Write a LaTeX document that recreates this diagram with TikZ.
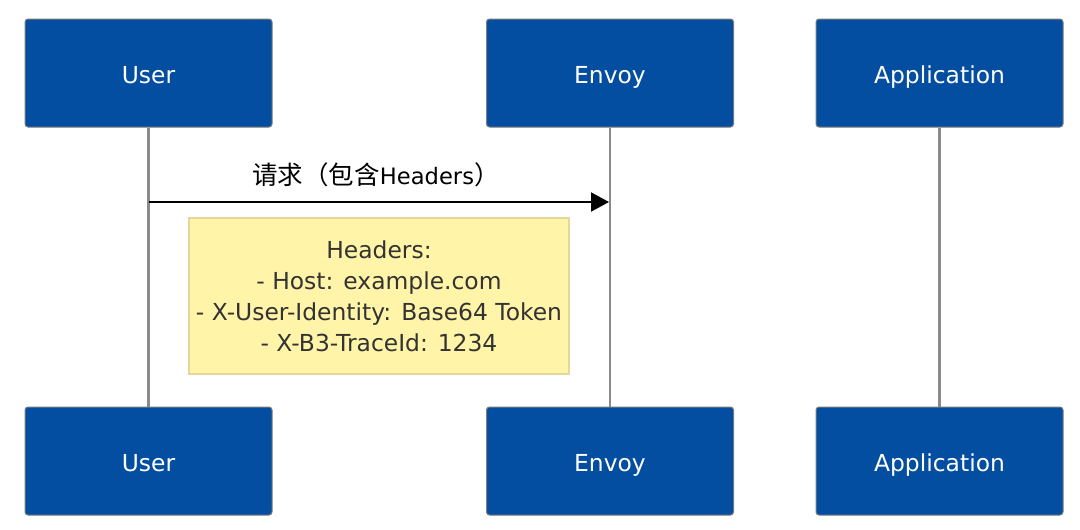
\documentclass[tikz,border=0pt]{standalone}
\usepackage{fontspec}
\setmainfont{DejaVu Sans}
\newfontfamily\cjk{Noto Sans CJK SC}
\usetikzlibrary{arrows.meta}
\definecolor{actorfill}{HTML}{034EA0}
\definecolor{actorline}{HTML}{7A7A7A}
\definecolor{lifeline}{HTML}{8A8A8A}
\definecolor{notefill}{HTML}{FFF4A8}
\definecolor{noteline}{HTML}{E3D898}
\definecolor{txt}{HTML}{333333}
\tikzset{
  actor/.style={rectangle, rounded corners=3pt, draw=actorline, line width=1pt,
    fill=actorfill, minimum width=247pt, minimum height=108pt, inner sep=0pt,
    text height=20pt, text depth=0pt,
    text=white, font=\fontsize{23.4}{28}\selectfont},
  life/.style={draw=lifeline, line width=2.5pt},
  msg/.style={draw=black, line width=2pt, -{Triangle[length=18pt,width=19pt]}},
  msglabel/.style={text=black, font=\fontsize{22.6}{28}\selectfont, inner sep=0pt},
  note/.style={rectangle, draw=noteline, line width=1.2pt, fill=notefill,
    minimum width=380pt, minimum height=156pt, inner sep=0pt, align=center,
    text=txt, font=\fontsize{23.4}{31}\selectfont}
}
\begin{document}
\begin{tikzpicture}[x=1pt,y=-1pt]
\useasboundingbox (0,0) rectangle (1080,530);
\fill[white] (0,0) rectangle (1080,530);
% actors
\node[actor] (ut) at (148.5,73) {User};
\node[actor] (et) at (610,73) {Envoy};
\node[actor] (at) at (939.5,73) {Application};
\node[actor] (ub) at (148.5,461) {User};
\node[actor] (eb) at (610,461) {Envoy};
\node[actor] (ab) at (939.5,461) {Application};
% lifelines
\draw[life] (ut.south) -- (ub.north);
\draw[life] (et.south) -- (eb.north);
\draw[life] (at.south) -- (ab.north);
% message
\coordinate (m1s) at (148.5,202);
\coordinate (m1e) at (609,202);
\draw[msg] (m1s) -- (m1e);
\node[msglabel] (m1l) at (376,175) {{\cjk\fontsize{25.5}{28}\selectfont 请求（包含}Headers{\cjk\fontsize{25.5}{28}\selectfont ）}};
% note
\node[note] (n1) at (379,296) {Headers:\\- Host: example.com\\- X-User-Identity: Base64 Token\\- X-B3-TraceId: 1234};
\end{tikzpicture}
\end{document}
